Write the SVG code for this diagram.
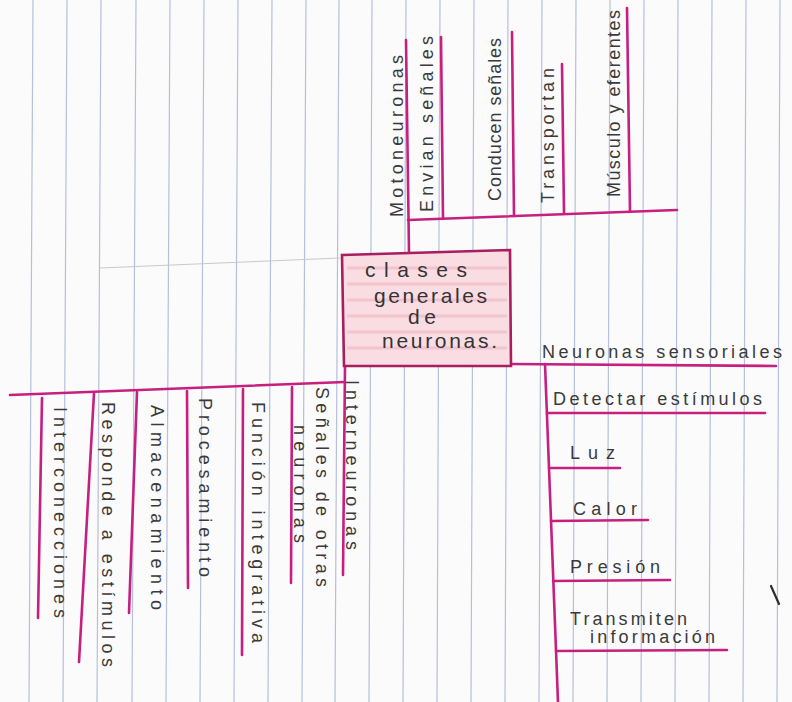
<svg xmlns="http://www.w3.org/2000/svg" width="792" height="702" viewBox="0 0 792 702">
<defs>
<style>
.paper{fill:#fbfbfb}
.rule{stroke:#b7c0da;stroke-width:1.2;fill:none}
.faint{stroke:#c9c9c9;stroke-width:1;fill:none}
.ink{stroke:#c61f7f;stroke-width:2.6;fill:none;stroke-linecap:round}
.box{fill:#f9dde3;stroke:#a81e5e;stroke-width:2.6}
.stripe{stroke:#f3b9c6;stroke-width:3;opacity:0.7}
.t{font-family:"Liberation Sans","DejaVu Sans",sans-serif;font-size:18px;fill:#3a3a3a}
.tb{font-family:"Liberation Sans","DejaVu Sans",sans-serif;font-size:21px;fill:#333}
.pencil{stroke:#2e2e2e;stroke-width:2.2;stroke-linecap:round}
</style>
</defs>
<rect class="paper" x="0" y="0" width="792" height="702"/>
<g id="paper-rules">
<line class="rule" x1="33" y1="0" x2="29" y2="702"/>
<line class="rule" x1="67" y1="0" x2="63" y2="702"/>
<line class="rule" x1="101" y1="0" x2="97" y2="702"/>
<line class="rule" x1="136" y1="0" x2="132" y2="702"/>
<line class="rule" x1="170" y1="0" x2="166" y2="702"/>
<line class="rule" x1="204" y1="0" x2="200" y2="702"/>
<line class="rule" x1="238" y1="0" x2="234" y2="702"/>
<line class="rule" x1="272" y1="0" x2="268" y2="702"/>
<line class="rule" x1="306" y1="0" x2="302" y2="702"/>
<line class="rule" x1="339" y1="0" x2="335" y2="702"/>
<line class="rule" x1="372" y1="0" x2="369" y2="702"/>
<line class="rule" x1="406" y1="0" x2="403" y2="702"/>
<line class="rule" x1="440" y1="0" x2="437" y2="702"/>
<line class="rule" x1="474" y1="0" x2="471" y2="702"/>
<line class="rule" x1="508" y1="0" x2="505" y2="702"/>
<line class="rule" x1="542" y1="0" x2="539" y2="702"/>
<line class="rule" x1="576" y1="0" x2="573" y2="702"/>
<line class="rule" x1="610" y1="0" x2="607" y2="702"/>
<line class="rule" x1="644" y1="0" x2="641" y2="702"/>
<line class="rule" x1="678" y1="0" x2="675" y2="702"/>
<line class="rule" x1="712" y1="0" x2="709" y2="702"/>
<line class="rule" x1="746" y1="0" x2="743" y2="702"/>
<line class="rule" x1="780" y1="0" x2="777" y2="702"/>
<line class="faint" x1="100" y1="268" x2="340" y2="258"/>
</g>
<g id="connectors">
<line class="ink" x1="406" y1="40" x2="409" y2="253"/>
<line class="ink" x1="408" y1="220" x2="677" y2="210"/>
<line class="ink" x1="441" y1="37" x2="443" y2="218"/>
<line class="ink" x1="512" y1="32" x2="514" y2="216"/>
<line class="ink" x1="562" y1="64" x2="564" y2="213"/>
<line class="ink" x1="627" y1="8" x2="630" y2="211"/>
<line class="ink" x1="510" y1="364" x2="776" y2="366"/>
<line class="ink" x1="545" y1="364" x2="558" y2="702"/>
<line class="ink" x1="547" y1="413" x2="765" y2="413"/>
<line class="ink" x1="549" y1="468" x2="620" y2="468"/>
<line class="ink" x1="551" y1="521" x2="648" y2="520"/>
<line class="ink" x1="553" y1="581" x2="670" y2="580"/>
<line class="ink" x1="556" y1="651" x2="727" y2="650"/>
<line class="ink" x1="345" y1="366" x2="343" y2="575"/>
<line class="ink" x1="10" y1="395" x2="345" y2="382"/>
<line class="ink" x1="292" y1="387" x2="291" y2="583"/>
<line class="ink" x1="243" y1="389" x2="242" y2="655"/>
<line class="ink" x1="187" y1="391" x2="188" y2="588"/>
<line class="ink" x1="137" y1="392" x2="129" y2="613"/>
<line class="ink" x1="94" y1="393" x2="79" y2="662"/>
<line class="ink" x1="42" y1="398" x2="38" y2="618"/>
</g>
<g id="central">
<path class="box" d="M342,255 L510,250 L511,366 L344,366 Z"/>
<line class="stripe" x1="347" y1="268" x2="507" y2="268"/>
<line class="stripe" x1="347" y1="284" x2="507" y2="284"/>
<line class="stripe" x1="347" y1="300" x2="507" y2="300"/>
<line class="stripe" x1="347" y1="316" x2="507" y2="316"/>
<line class="stripe" x1="347" y1="332" x2="507" y2="332"/>
<line class="stripe" x1="347" y1="348" x2="507" y2="348"/>
<text class="tb" x="365" y="277" textLength="102" lengthAdjust="spacing">clases</text>
<text class="tb" x="374" y="303" textLength="113" lengthAdjust="spacing">generales</text>
<text class="tb" x="408" y="324" textLength="28" lengthAdjust="spacing">de</text>
<text class="tb" x="382" y="348" textLength="115" lengthAdjust="spacing">neuronas.</text>
</g>
<g id="motoneuronas">
<text class="t" transform="translate(403,217) rotate(-90)" textLength="162" lengthAdjust="spacing">Motoneuronas</text>
</g>
<g id="envian-senales">
<text class="t" transform="translate(433,212) rotate(-90)" textLength="176" lengthAdjust="spacing">Envian señales</text>
</g>
<g id="conducen-senales">
<text class="t" transform="translate(501,201) rotate(-90)" textLength="163" lengthAdjust="spacing">Conducen señales</text>
</g>
<g id="transportan">
<text class="t" transform="translate(554,203) rotate(-90)" textLength="135" lengthAdjust="spacing">Transportan</text>
</g>
<g id="musculo">
<text class="t" transform="translate(620,197) rotate(-90)" textLength="187" lengthAdjust="spacing">Músculo y eferentes</text>
</g>
<g id="sensoriales">
<text class="t" x="542" y="358" textLength="240" lengthAdjust="spacing">Neuronas sensoriales</text>
</g>
<g id="detectar">
<text class="t" x="553" y="405" textLength="209" lengthAdjust="spacing">Detectar estímulos</text>
</g>
<g id="luz">
<text class="t" x="570" y="459" textLength="45" lengthAdjust="spacing">Luz</text>
</g>
<g id="calor">
<text class="t" x="573" y="515" textLength="64" lengthAdjust="spacing">Calor</text>
</g>
<g id="presion">
<text class="t" x="570" y="573" textLength="90" lengthAdjust="spacing">Presión</text>
</g>
<g id="transmiten">
<text class="t" x="570" y="625" textLength="117" lengthAdjust="spacing">Transmiten</text>
<text class="t" x="590" y="643" textLength="125" lengthAdjust="spacing">información</text>
</g>
<g id="interneuronas">
<text class="t" transform="translate(346,380) rotate(90)" textLength="170" lengthAdjust="spacing">Interneuronas</text>
</g>
<g id="senales-otras">
<text class="t" transform="translate(316,387) rotate(90)" textLength="200" lengthAdjust="spacing">Señales de otras</text>
<text class="t" transform="translate(294,425) rotate(90)" textLength="118" lengthAdjust="spacing">neuronas</text>
</g>
<g id="funcion">
<text class="t" transform="translate(252,402) rotate(90)" textLength="241" lengthAdjust="spacing">Función integrativa</text>
</g>
<g id="procesamiento">
<text class="t" transform="translate(199,398) rotate(90)" textLength="179" lengthAdjust="spacing">Procesamiento</text>
</g>
<g id="almacenamiento">
<text class="t" transform="translate(151,405) rotate(90)" textLength="205" lengthAdjust="spacing">Almacenamiento</text>
</g>
<g id="responde">
<text class="t" transform="translate(102,402) rotate(90)" textLength="265" lengthAdjust="spacing">Responde a estímulos</text>
</g>
<g id="interconecciones">
<text class="t" transform="translate(54,407) rotate(90)" textLength="211" lengthAdjust="spacing">Interconecciones</text>
</g>
<line class="pencil" x1="771" y1="586" x2="779" y2="604"/>
</svg>
